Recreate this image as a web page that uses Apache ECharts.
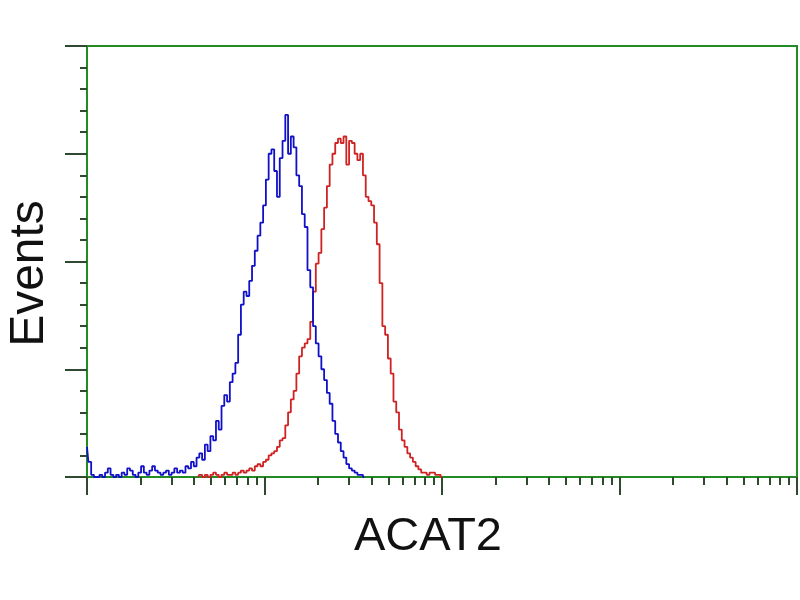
<!DOCTYPE html>
<html>
<head>
<meta charset="utf-8">
<script src="https://cdn.jsdelivr.net/npm/echarts@6/dist/echarts.min.js"></script>
<style>html,body{margin:0;padding:0;background:#fff;}#c{width:800px;height:600px;}</style>
</head>
<body>
<div id="c"></div>
<script>
// Histogram channels: 64 channels per decade on a 4-decade log scale
const channelsPerDecade = 64;
const blueStart = 0;
const blueCounts = [14,7,1,0,0,1,0,2,4,1, 0,1,0,2,1,4,3,1,0,2, 5,2,1,3,5,3,2,1,2,3,
  1,2,4,2,3,2,5,4,7,5, 9,11,8,15,12,19,17,26,22,33, 38,35,44,48,53,66,80,86,84,91,
  98,105,112,118,126,138,150,152,142,130, 148,156,168,150,158,153,140,135,122,116,
  96,88,70,62,56,50,45,39,34,26, 20,16,12,9,6,4,3,2,1,1, 0];
const redStart = 40;
const redCounts = [0,1,0,1,0,1,2,1,0,1, 2,1,1,2,1,2,3,2,3,4, 3,5,6,5,7,8,10,11,12,14,
  17,18,24,30,36,40,48,56,60,62, 64,72,86,99,104,115,125,135,145,150,
  155,157,155,158,145,156,155,150,147,150, 140,130,128,126,118,108,90,70,66,55,
  48,35,30,22,17,14,11,9,7,5, 3.5,2,2,1,2,2,1,1,0];
const majorTicks = [1,10,100,1000,10000];
const minorTicks = [2,3,4,5,6,7,8,9,20,30,40,50,60,70,80,90,200,300,400,500,600,700,800,900,2000,3000,4000,5000,6000,7000,8000,9000];
const xLabel = 'ACAT2';
const yLabel = 'Events';

function toPoints(start, counts){
  return counts.map((v,i)=>[Math.pow(10,(start+i)/channelsPerDecade), v]);
}

const green = '#228B22';
const tickColor = '#2f4a2f';
const chart = echarts.init(document.getElementById('c'), null, {renderer:'canvas'});
chart.setOption({
  animation:false,
  backgroundColor:'#ffffff',
  grid:{left:87,right:3,top:46,bottom:123,show:true,borderColor:green,borderWidth:2,backgroundColor:'transparent',outerBoundsMode:'none',containLabel:false},
  xAxis:[{
    type:'log', logBase:10, min:1, max:10000, position:'bottom',
    axisLine:{show:true,onZero:false,lineStyle:{color:green,width:2}},
    axisTick:{show:true,customValues:majorTicks,length:18,inside:false,lineStyle:{color:tickColor,width:2}},
    axisLabel:{show:false}, splitLine:{show:false}, minorTick:{show:false},
    name:xLabel, nameLocation:'middle', nameGap:37,
    nameTextStyle:{fontSize:47,color:'#111',fontFamily:'Liberation Sans, Arial, sans-serif',padding:[0,28,0,0]}
  },{
    type:'log', logBase:10, min:1, max:10000, position:'bottom', offset:0,
    axisLine:{show:false,onZero:false},
    axisTick:{show:true,customValues:minorTicks,length:8,inside:false,lineStyle:{color:tickColor,width:2}},
    axisLabel:{show:false}, splitLine:{show:false}
  }],
  yAxis:{
    type:'value', min:0, max:200, interval:50,
    axisLine:{show:true,onZero:false,lineStyle:{color:green,width:2}},
    axisTick:{show:true,length:22,lineStyle:{color:tickColor,width:2}},
    minorTick:{show:true,splitNumber:5,length:7,lineStyle:{color:tickColor,width:2}},
    axisLabel:{show:false}, splitLine:{show:false},
    name:yLabel, nameLocation:'middle', nameGap:33, nameRotate:90,
    nameTextStyle:{fontSize:48,color:'#111',fontFamily:'Liberation Sans, Arial, sans-serif',padding:[0,24,0,0]}
  },
  series:[{
    type:'line', name:'red', xAxisIndex:0, data:toPoints(redStart, redCounts),
    step:'middle', showSymbol:false, lineStyle:{color:'#d02222',width:1.8}, z:3
  },{
    type:'line', name:'blue', xAxisIndex:0, data:toPoints(blueStart, blueCounts),
    step:'middle', showSymbol:false, lineStyle:{color:'#1010c8',width:1.8}, z:4
  }]
});
</script>
</body>
</html>
